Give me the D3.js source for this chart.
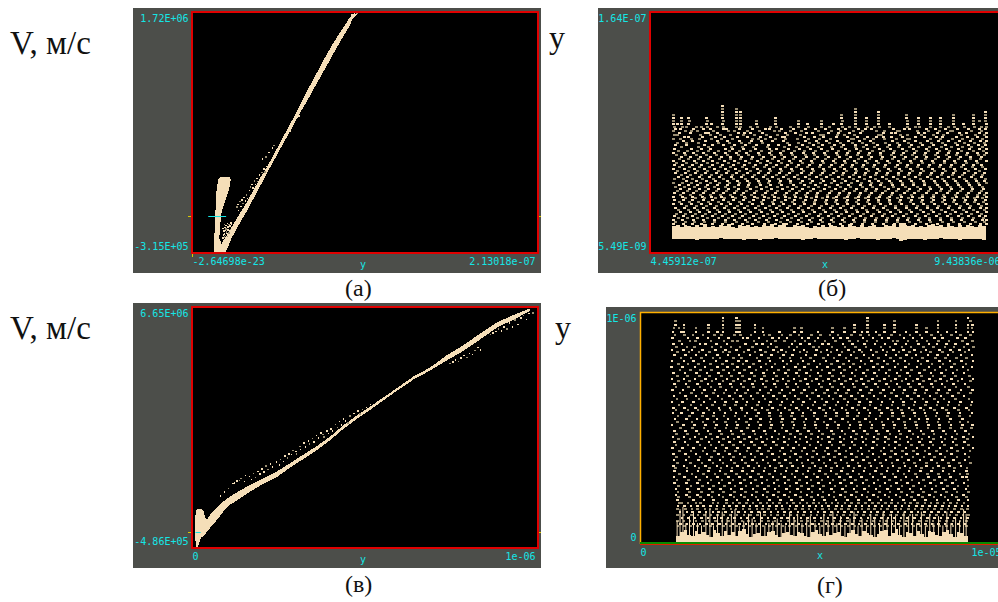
<!DOCTYPE html>
<html>
<head>
<meta charset="utf-8">
<script src="https://cdn.jsdelivr.net/npm/d3@7"></script>
<style>
body { margin:0; background:#fff; }
svg { display:block; }
.tick text, .mid { font-family:"DejaVu Sans Mono",monospace; font-size:10px; fill:#14e6e6; }
.cap { font-family:"Liberation Serif",serif; fill:#111; }
</style>
</head>
<body>
<div id="chart-area"></div>
<script>
// values. band outlines are read off, the loose
// dots follow the cloud's outline and density but are not one-to-one reads

// (a) x in 1e-9 m, V in 1e4 m/s
const aStemV = [-31.5,-18.9,-4.8,3.6,9.2,17.6,26,30.3,32.8]
const aStemLeft = [13.5,13.7,14.2,14.4,14.8,14.8,15.6,16,17.6]
const aStemRight = [20.3,16.8,17.6,18.3,19.7,21.8,23.4,23.8,23]
const aBandV = [-31.5,-25.9,-18.9,-11.9,-4.8,3.6,12,20.4,28.9,37.3,45.7,54.1,62.5,71,79.4,87.8,96.2,104.6,113.1,121.5,129.9,138.3,146.7,153.8,160.8,166.4,170.6]
const aBandLeft = [15,17.2,20.3,23.4,26.5,30.2,34.1,37.3,40.8,44.5,48,51.3,54.6,57.9,61.2,64.4,67.5,70.6,73.9,77.2,80.4,83.9,87.4,90.7,94.2,96.6,99]
const aBandRight = [20.3,22.4,24.4,27.1,30,33.7,36.9,40.2,43.5,46.6,50.1,53.4,56.8,60.3,63.6,66.9,70.6,73.9,77.4,80.8,84.3,87.6,91.1,94.2,97.3,98.9,102.4]
const aDotX = [18.5,19,19.6,20.2,20.8,21.4,18.8,19.5,20.3,21,21.7,22.4,19.2,20,20.9,21.6,22.5,23.2,18.6,19.8,20.6,21.8,23,19.4,20.5,21.4,22.2,23.4,24,27.2,27.8,28.2,29,29.6,30.4,31,31.6,32.4,33,33.6,35,35.5,36.5,37,38,38.6,39.5,40,41,41.6,42.5,43,44,44.6,45.5,43,45,47,49,50,98,99.5,101,60,65.5]
const aDotV = [-18,-18.5,-17.5,-18,-19,-17,-15.5,-15,-16,-14.5,-15,-14,-12.5,-12,-13,-11.5,-12,-11,-10,-9.5,-10.5,-9,-8,-7,-7.5,-6,-7,-5.5,-6.5,7.8,10,5,12.5,8.6,14,10.8,16,13,18,15,22,25,27,24,30,27,32,29.5,35,32.5,37,34,40,37.5,42,48.5,50,54,58,60,170,171,172,72,85]

// shared sample positions of the solid floors in (b) and (d), x in 1e-6 m x100
const floorX = [100,110,120,130,140,150,160,170,180,190,200,210,220,230,240,250,260,270,280,290,300,310,320,330,340,350,360,370,380,390,400,410,420,430,440,450,460,470,480,490,500,510,520,530,540,550,560,570,580,590,600,610,620,630,640,650,660,670,680,690,700,710,720,730,740,750,760,770,780,790,800,810,820,830,840,850,860,870,880,890,900]

// (b) x in 1e-6 m x100, y in 1e-8 m
const bBandTop = [2.3,2.36,2.26,2.4,2.3,2.24,2.38,2.28,2.44,2.26,2.34,2.24,2.4,2.3,2.46,2.28,2.22,2.36,2.3,2.42,2.26,2.34,2.24,2.38,2.3,2.44,2.26,2.36,2.5,2.28,2.24,2.36,2.3,2.42,2.26,2.22,2.34,2.28,2.4,2.26,2.36,2.3,2.24,2.4,2.28,2.46,2.3,2.24,2.38,2.26,2.34,2.42,2.28,2.24,2.38,2.32,2.44,2.28,2.5,2.36,2.3,2.42,2.26,2.34,2.24,2.38,2.46,2.3,2.38,2.26,2.42,2.3,2.24,2.36,2.28,2.4,2.34,2.26,2.38,2.3,2.28]
const bBandBot = [1.5,1.46,1.44,1.5,1.46,1.5,1.42,1.48,1.5,1.44,1.46,1.5,1.52,1.46,1.44,1.5,1.5,1.46,1.42,1.48,1.5,1.46,1.4,1.5,1.46,1.48,1.52,1.44,1.46,1.5,1.5,1.46,1.48,1.42,1.46,1.5,1.52,1.46,1.44,1.5,1.46,1.48,1.5,1.44,1.42,1.5,1.46,1.52,1.48,1.44,1.5,1.46,1.42,1.5,1.48,1.46,1.52,1.44,1.36,1.4,1.44,1.5,1.46,1.48,1.4,1.46,1.5,1.48,1.52,1.46,1.44,1.5,1.46,1.42,1.5,1.46,1.44,1.5,1.46,1.42,1.46]
const bDotY = [10.3,10.1,9.9,9.7,9.5,9.3,9.1,8.9,8.75,8.62,8.49,8.36,8.23,8.1,7.97,7.84,7.71,7.58,7.45,7.32,7.19,7.06,6.93,6.8,6.67,6.54,6.41,6.28,6.15,6.02,5.89,5.76,5.63,5.5,5.37,5.24,5.11,4.98,4.85,4.72,4.59,4.46,4.33,4.2,4.07,3.94,3.81,3.68,3.55,3.42,3.29,3.16,3.03,2.9,2.77,2.64,2.51]
const bDotX = [
[226],
[226,260,563],
[226,260,271,563,623,896],
[100,226,260,271,529,563,623,695,815,866,896],
[100,120,140,185,226,261,271,360,529,563,593,623,695,725,755,781,815,866,895],
[101,120,141,186,227,260,272,313,360,418,477,530,564,593,622,696,726,755,781,814,866,880,896],
[100,112,121,140,185,197,226,260,271,313,361,418,443,477,508,529,563,593,624,650,696,725,755,781,815,840,866,897],
[102,124,133,158,171,186,213,228,262,271,297,315,348,362,399,419,444,478,497,531,548,565,594,612,625,652,697,718,727,756,782,801,816,842,867,885,898],
[107,119,151,178,194,229,236,268,301,334,344,376,406,437,462,489,521,540,571,589,604,660,688,703,745,768,793,824,851,879,896],
[100,131,147,163,203,241,255,288,319,358,371,398,427,471,503,526,558,583,617,639,671,677,721,750,778,806,812,859,884],
[116,144,181,190,213,266,282,296,327,385,412,439,455,495,521,549,577,636,655,665,724,739,772,799,828,847,880,898],
[103,112,169,194,221,247,279,308,337,366,392,425,476,482,518,536,561,624,630,680,696,733,762,789,834,871,893],
[128,139,175,207,231,263,289,322,349,378,384,434,459,484,517,543,570,596,619,635,657,684,716,741,770,786,821,849,876,897],
[101,118,147,168,198,224,252,303,316,336,361,387,416,445,473,500,553,559,586,611,639,668,697,703,755,781,812,838,862,889],
[125,149,183,212,239,268,299,325,352,381,437,465,491,519,547,574,603,659,690,718,748,776,801,830,857,882,899],
[110,134,165,215,244,273,294,328,390,418,447,470,498,525,556,581,609,641,672,699,729,759,785,818,843,868,892],
[105,133,179,200,229,255,284,312,343,369,396,428,458,480,510,533,564,592,620,650,676,706,736,764,793,823,852,878,896],
[122,165,191,249,277,305,339,384,413,442,469,503,529,565,584,612,645,675,701,726,753,783,809,836,861,887],
[102,147,173,196,232,250,280,310,345,364,394,422,450,477,506,538,566,595,625,653,683,712,744,771,797,827,854,881,898],
[113,136,161,189,216,243,270,298,326,351,380,408,435,463,493,522,550,578,607,635,664,694,720,750,779,804,834,864,890],
[100,129,151,177,204,234,260,287,317,346,374,401,431,457,486,515,544,572,600,628,660,687,714,742,774,800,825,850,875,899],
[108,132,158,184,211,238,265,292,320,350,377,405,436,461,488,518,541,569,598,627,655,682,710,739,768,795,822,848,877,894],
[120,143,170,195,222,247,274,302,330,357,383,411,440,467,496,523,551,580,606,634,663,691,719,746,775,803,831,858,885],
[115,140,164,190,219,245,272,300,324,353,379,407,433,460,487,513,545,573,601,630,658,686,715,743,769,798,826,856,883],
[100,126,153,176,201,230,256,285,314,341,368,397,424,451,481,509,535,562,590,618,647,675,704,732,760,790,817,845,872,897],
[109,135,160,186,213,240,267,295,321,348,376,402,429,456,483,514,539,567,594,622,651,678,707,735,763,792,819,847,874],
[104,124,148,172,199,225,253,281,309,337,363,391,419,447,475,502,530,557,585,613,640,670,698,725,754,782,810,839,866,886],
[117,142,167,193,220,246,276,304,332,356,386,414,443,472,499,527,555,582,610,638,666,695,722,749,778,806,835,863,888],
[101,128,154,180,206,232,259,286,315,344,372,400,427,454,482,511,537,565,593,621,649,677,705,733,761,788,816,844,870,895],
[111,138,162,188,214,242,269,297,323,347,375,404,432,458,485,516,542,568,597,626,654,681,709,737,765,794,820,853,879],
[106,130,156,182,209,235,262,289,318,342,370,395,426,453,479,507,534,563,591,619,646,674,702,730,758,787,813,841,869,893],
[121,145,171,197,223,251,278,306,335,362,389,417,446,474,501,532,560,587,615,643,673,700,728,756,784,811,837,865,889],
[113,137,166,192,217,248,275,301,329,354,382,410,438,464,490,520,548,575,602,632,661,689,717,747,773,801,829,860,884],
[103,127,150,174,202,228,254,283,311,340,367,393,420,448,478,505,531,558,588,616,644,672,701,731,757,786,814,842,871,896],
[133,159,185,208,237,264,290,316,345,373,399,430,455,484,512,540,570,599,623,652,680,708,738,766,791,818,846,873,892],
[101,124,147,169,194,219,243,268,293,319,343,371,398,423,449,476,504,528,554,579,604,631,656,684,711,740,767,796,824,851,877,898],
[115,139,163,187,212,239,266,292,322,349,376,406,434,462,489,519,546,576,603,629,659,685,713,741,772,799,826,855,881],
[106,129,155,181,205,233,257,288,313,338,365,392,415,444,471,498,526,552,583,608,637,662,692,723,752,777,807,832,859,887],
[118,142,168,191,216,241,267,296,324,350,378,403,429,458,486,513,539,566,592,617,648,674,703,729,755,783,808,838,863,890],
[112,136,160,183,210,235,261,286,312,339,366,395,421,450,475,502,533,561,589,614,641,669,696,724,751,780,805,833,861,884],
[104,126,152,177,203,227,255,279,307,334,360,388,414,441,468,497,524,549,577,606,633,658,688,715,745,770,798,825,852,880,897],
[119,144,170,195,221,247,273,299,327,354,383,409,436,466,492,520,547,574,601,627,655,679,707,734,762,789,819,847,874,893],
[101,123,148,174,198,224,250,282,308,332,358,386,412,439,465,494,517,544,571,597,625,652,681,709,736,764,792,821,849,876,898],
[131,157,179,207,231,258,284,314,342,369,397,425,453,481,508,536,563,590,619,645,671,699,728,757,785,812,840,867,888],
[103,125,150,176,201,229,253,278,305,331,359,385,410,438,463,491,516,543,572,598,624,651,678,706,735,763,790,816,845,870,895],
[116,141,165,189,215,242,270,295,325,352,377,405,433,460,487,514,541,568,595,622,650,676,704,732,759,787,815,843,868,891],
[100,122,146,172,196,222,246,274,301,328,356,381,408,435,461,490,518,545,573,600,628,654,682,711,738,766,794,822,850,878,899],
[134,158,184,211,236,263,289,317,344,370,396,424,451,478,506,534,560,586,612,640,667,694,722,748,775,804,831,857,885],
[105,128,153,178,204,230,256,281,310,336,363,390,418,445,472,500,527,555,582,609,636,665,693,720,747,774,802,828,854,883,897],
[113,138,162,186,213,240,265,291,320,347,374,401,428,456,483,510,538,567,593,621,647,675,703,730,758,784,811,839,866,892],
[119,143,167,193,218,244,271,298,326,353,379,407,432,459,488,515,542,569,596,626,653,680,707,737,763,793,819,848,875,898],
[108,132,156,182,208,234,259,285,311,340,365,393,420,447,474,503,529,556,584,611,639,666,695,721,749,778,806,834,860,886],
[102,125,149,175,200,226,252,277,304,330,357,384,411,440,469,495,522,550,578,604,632,659,687,716,743,771,799,827,853,881,896],
[114,137,161,188,214,241,269,294,319,346,375,402,427,455,480,509,537,564,591,618,646,673,700,727,754,782,810,836,864,890],
[100,123,151,177,205,232,257,283,309,337,364,392,419,448,476,504,531,559,587,615,642,670,698,726,753,780,808,835,862,888,899],
[107,130,155,180,206,233,260,288,316,343,372,399,426,452,479,507,535,562,588,616,644,672,701,729,756,785,813,841,869,894],
[101,126,150,173,199,225,251,276,303,333,361,388,416,443,470,499,525,553,581,607,635,663,690,718,746,773,800,829,856,883,899]
]

// (c) x in 1e-9 m, V in 1e5 m/s
const cStemV = [-4.56,-1.91,.55,2.52,4.49,5.96,6.65]
const cStemLeft = [11.6,9.6,9.6,9.6,9.6,11.6,13.5]
const cStemRight = [16.4,26,40.5,48.2,36.6,34.7,28]
const cBandX = [26,40,52,71,91,110,139,168,206,245,283,322,360,399,437,476,514,553,592,640,688,736,784,832,881,929,977]
const cBandTop = [1,3,4.98,6.95,8.92,10.39,12.16,13.84,15.8,17.77,20.23,22.79,25.25,28.1,31.45,34.3,36.96,39.7,42.47,45.91,48.57,52.2,55.16,58.6,61.95,64.1,66.1]
const cBandBot = [-1.9,-.5,1.04,3.31,5.96,7.93,9.9,11.87,14.13,16.1,18.95,21.51,24.07,27.02,30.37,33.32,35.98,38.83,41.68,45.03,47.69,50.64,53.49,56.84,60.38,62.74,65.3]
const cDotX = [80,92,104,116,128,140,152,120,135,150,164,176,188,200,212,224,170,182,194,206,218,230,242,254,266,278,290,250,262,274,286,298,310,322,334,346,358,370,300,312,326,338,350,364,376,388,400,412,424,436,380,392,404,418,430,442,454,466,478,490,502,514,448,460,472,484,496,508,744,752,760,768,776,784,792,800,808,816,824,832,860,868,876,884,892,900,908,916,924,932,940,948,956,964,972,984]
const cDotV = [10.8,12,13,14.4,15.2,16,16.8,14.6,15.4,15,16.6,17.4,18,18.8,19.6,20.2,15.6,16.2,17.2,17.8,18.6,19.4,20.8,21.6,22.6,23.2,24.2,20,21,22,23,24,25.4,26.4,27,27.8,28.6,29.4,23.2,24.6,25.2,26.2,26.8,28,29,30,30.6,32,32.8,33.6,28.2,29.2,30,31,31.8,33,34.4,35.2,36,36.4,37,37.8,32.4,33.2,34.2,35,35.8,36.6,50,50.4,51,50.6,51.6,52.4,51.8,53,52.6,53.8,54.8,54,58.6,59,59.4,60.2,59.6,60.8,60.2,62,60.8,62.8,61.6,63.4,64.2,63,64.8,65]

// (d) x in 1e-6 m x100, y in 1e-8 m
const dBandTop = [3.5,5,6,4,3.6,5.6,4.2,5.2,3.8,3.2,6,4.6,3.4,5.4,4,5,3.6,5.8,6.4,4.2,3.2,4.4,4.8,3.6,3.4,5,5.6,4,3,4.6,5.2,3.8,3.6,5,4.6,3.4,3.2,5.2,6,4.4,3.4,5,3.8,4.6,5,3.4,3.2,4.6,6.2,4.2,3.6,5.4,4.8,3.8,3.2,4.4,5.6,6,3.4,4.8,6.4,4,3.2,5.2,4.8,3.6,5.8,4.2,3.2,5.6,5,3.8,3.4,5.2,6,4.2,3.2,5,4.8,3.6,6]
const dSpikeX = [102,110,118,126,136,147,158,169,181,192,202,213,226,239,251,261,273,285,298,308,319,331,343,354,365,377,388,399,411,423,433,445,458,468,481,494,505,517,530,541,551,563,577,588,599,610,622,634,645,658,668,679,691,702,713,725,738,749,760,773,784,796,807,820,832,843,854,867,878,889,896]
const dSpikeTop = [10,15,16,9,12,14,9,8,14,15,8,13,14,11,13,15,8,10,13,11,9,14,8,9,10,11,9,8,14,11,13,9,11,12,9,8,13,10,14,9,12,8,11,14,8,11,8,13,11,9,14,11,13,12,8,14,12,13,9,14,8,13,9,12,8,14,9,11,10,15,13]
const dDotY = [98,96.5,95,93.5,92,90.5,89.2,88,86.7,85.5,84.2,83,81.7,80.5,79.2,78,76.7,75.5,74.2,73,71.7,70.5,69.2,68,66.7,65.5,64.2,63,61.7,60.5,59.2,58,56.7,55.5,54.2,53,51.7,50.5,49.2,48,46.7,45.5,44.2,43,41.7,40.5,39.2,38,36.7,35.5,34.2,33,31.7,30.5,29.2,28,26.7,25.5,24.2,23,21.7,20.5,19.2,18,16.7,15.5,14.2,13,11.7,10.5,9.2,8]
const dDotX = [
[225,261,622,897],
[94,225,261,270,622,696,815,865,905],
[94,117,185,225,261,270,313,586,622,668,696,756,815,865,897,910],
[90,104,117,150,185,225,261,270,313,334,421,440,526,558,586,622,668,696,756,783,815,865,897,908],
[87,110,117,150,185,209,225,261,270,313,334,380,421,440,485,526,558,586,606,622,645,668,696,728,756,783,815,840,865,897,912],
[93,119,142,170,201,221,256,273,301,337,352,387,410,433,468,492,519,541,578,603,625,654,687,711,739,766,798,824,853,877,904],
[86,128,155,183,214,240,279,292,324,361,378,401,442,459,486,527,548,566,609,637,661,679,722,746,771,806,828,869,891],
[105,134,149,191,228,250,265,310,345,369,394,423,450,477,505,533,572,595,620,648,692,704,733,758,785,817,846,882,910],
[88,112,162,176,207,235,286,316,333,356,414,437,462,498,515,554,581,613,642,669,698,727,762,791,812,838,863,896],
[97,125,146,195,219,247,271,305,348,372,406,428,473,489,524,560,588,617,658,683,716,741,776,803,834,859,887,913],
[84,116,139,168,204,232,262,295,327,363,385,419,447,481,510,538,569,599,631,664,693,720,751,782,820,850,874,901],
[100,131,159,187,225,243,282,312,341,375,398,436,456,494,521,552,585,607,646,675,708,737,769,794,827,856,889],
[91,122,151,178,210,238,268,299,330,358,391,416,452,479,513,545,576,612,636,672,700,729,755,788,814,843,878,908],
[109,137,166,197,216,254,276,318,350,381,408,439,465,501,530,563,591,626,652,685,712,744,773,809,836,866,894],
[85,118,144,173,205,234,267,289,325,354,389,412,445,475,507,539,571,604,633,667,695,724,760,786,819,848,880,912],
[103,129,157,190,223,251,280,308,343,367,400,430,460,491,523,556,583,615,649,677,706,735,768,799,829,861,892],
[83,114,148,175,209,237,264,297,329,359,392,424,448,483,512,544,574,601,638,663,697,726,757,790,821,852,884,909],
[106,135,163,193,226,255,284,315,346,377,404,435,467,496,528,558,590,622,653,682,714,743,778,807,837,868,898],
[89,120,152,180,212,241,270,303,336,365,396,427,454,486,517,549,579,610,641,673,703,732,764,796,825,857,886],
[99,127,160,188,220,248,278,311,339,371,403,433,463,493,526,555,587,618,647,680,710,739,770,801,833,864,902],
[85,117,147,177,206,236,266,298,331,362,390,420,451,482,514,543,575,605,635,668,699,728,759,792,822,853,881,911],
[102,133,165,194,224,253,283,313,344,374,405,438,469,499,531,561,592,624,655,686,717,746,775,808,840,870,905],
[92,123,154,184,215,245,274,306,335,366,397,425,457,488,518,550,582,611,643,674,702,734,765,797,826,858,890],
[96,130,161,192,218,249,281,309,342,370,402,431,461,495,525,557,586,619,650,681,709,740,772,802,835,865,899],
[86,115,145,174,203,233,263,293,326,357,387,418,449,480,511,541,570,602,632,665,694,723,754,783,816,847,879,910],
[107,138,167,198,227,258,287,319,349,380,409,440,471,503,534,564,596,627,657,688,719,750,780,811,842,872,904],
[90,121,150,179,211,242,272,302,334,364,393,422,455,487,516,547,578,608,640,670,701,731,761,793,823,855,887],
[98,126,158,189,222,252,279,307,340,373,401,432,464,497,527,559,589,620,651,684,713,742,774,805,832,863,900],
[84,113,143,172,202,231,261,291,323,355,386,417,446,478,509,540,568,600,630,662,691,721,752,784,815,845,877,909],
[104,136,164,196,229,259,288,320,351,382,411,441,472,504,535,565,597,628,659,689,720,749,781,812,843,873,906],
[88,119,149,181,213,244,275,304,332,360,395,426,458,490,519,551,580,614,644,676,705,736,767,795,828,860,893],
[95,128,156,186,217,246,277,314,347,376,407,434,466,500,529,562,593,623,654,687,715,745,777,806,839,871,901],
[87,111,141,171,200,230,260,290,322,353,384,415,444,476,508,537,567,598,629,660,690,718,750,779,813,844,876,908],
[101,132,168,199,228,257,285,317,352,383,413,443,474,506,536,566,594,625,656,690,721,752,782,810,841,874,903],
[93,124,153,182,208,239,269,300,328,356,388,421,453,484,520,553,584,616,645,678,707,738,763,787,818,849,883],
[99,140,169,200,231,260,289,321,354,385,416,447,477,502,532,568,599,629,661,692,723,753,785,815,846,875,898],
[85,116,146,176,207,235,265,296,327,358,389,419,450,479,511,542,573,603,634,666,696,725,756,789,820,851,882,910],
[108,141,172,203,233,262,292,323,355,386,417,448,480,510,540,571,601,633,664,695,726,758,788,819,850,880,907],
[92,122,152,183,215,247,276,308,338,368,399,429,459,489,522,552,583,613,646,677,708,737,768,800,830,862,891],
[97,127,159,190,221,250,281,312,343,379,410,437,468,498,528,560,591,621,652,683,712,747,776,804,837,867,900],
[87,118,148,178,209,238,267,298,329,359,392,423,452,485,515,546,576,606,639,671,700,730,760,791,824,854,885,911],
[103,134,166,195,226,255,284,316,345,375,406,436,467,497,526,557,588,618,649,679,711,741,771,803,834,864,896],
[91,120,155,186,214,243,273,303,333,363,394,425,456,486,517,548,579,609,638,669,698,733,764,795,826,856,888],
[96,129,161,192,223,253,282,311,341,372,403,433,463,494,524,555,586,617,648,680,710,743,773,802,833,866,899],
[86,113,144,175,205,234,264,294,325,356,388,418,449,480,512,543,574,604,635,667,697,727,757,790,821,852,884,911],
[105,137,170,201,230,259,290,320,350,381,412,442,473,505,533,563,595,626,658,688,718,748,780,811,840,869,903],
[89,121,151,181,212,242,271,301,331,361,393,424,455,483,514,545,577,607,637,668,699,729,759,792,822,853,889],
[97,131,162,193,224,254,283,313,346,378,408,438,470,501,531,561,592,622,653,685,716,746,777,806,835,867,901],
[90,123,157,187,216,246,277,306,335,366,396,428,458,488,519,549,581,611,642,673,704,734,766,798,827,858,890],
[100,135,167,197,225,256,286,318,348,380,410,441,471,502,534,565,596,627,657,689,722,751,783,813,844,874,904],
[88,117,147,177,208,236,265,295,324,354,385,415,445,477,507,538,569,600,631,661,692,724,755,784,817,847,879],
[94,126,158,188,219,249,280,310,340,369,400,431,462,492,523,554,585,615,647,678,709,739,770,801,831,861,895],
[92,125,156,185,217,248,278,305,337,367,398,427,458,490,521,550,582,612,643,675,706,735,767,797,829,859,893],
[105,139,171,202,232,261,291,322,353,384,414,444,475,506,537,567,598,628,660,691,722,754,786,816,845,876,896],
[90,119,150,180,210,240,270,300,330,362,393,423,454,484,513,544,575,605,636,668,698,727,758,789,820,850,882,894],
[98,130,160,191,222,252,283,314,345,374,405,435,466,496,527,558,589,619,651,682,713,744,775,805,836,865,898],
[92,124,154,184,213,243,272,302,332,365,395,426,456,487,518,548,578,609,640,670,701,732,763,794,825,855,886],
[103,136,168,199,229,258,288,319,349,379,409,440,470,500,532,562,593,625,656,686,717,748,779,810,841,870,897],
[95,127,157,187,218,247,276,307,338,368,399,429,460,491,522,553,584,614,645,676,707,738,769,799,830,860,892],
[101,133,165,196,226,256,287,317,347,377,408,439,469,499,530,561,592,623,654,684,715,745,776,808,838,868,899],
[96,124,155,185,214,245,274,304,334,364,394,424,455,485,516,547,577,607,638,669,700,730,761,792,823,854,885],
[103,132,163,194,224,255,284,315,345,376,406,437,468,498,529,560,590,620,650,681,711,742,773,804,835,866,894],
[100,143,172,198,234,263,293,321,352,383,413,443,474,504,535,566,597,627,658,689,720,750,781,812,843,871,897],
[104,110,128,151,163,197,211,234,252,270,289,307,328,345,362,380,400,418,436,455,473,489,507,524,541,560,578,597,616,635,652,671,688,706,724,740,759,779,796,814,832,850,868,887],
[101,119,136,154,171,190,208,228,243,261,281,299,316,335,353,371,387,409,426,445,462,480,496,515,536,552,572,590,607,625,643,662,680,699,717,735,756,772,792,809,828,845,863,881,898],
[100,122,140,155,175,189,207,226,246,260,279,297,318,333,350,370,388,406,424,443,461,478,498,516,533,550,569,588,606,624,641,659,677,699,714,734,752,770,788,806,825,843,860,880,896],
[107,125,141,160,178,197,212,231,249,267,285,303,322,339,357,376,394,412,431,449,467,485,504,522,540,558,577,595,613,631,649,667,687,705,724,742,760,778,797,816,835,853,871,889],
[100,118,138,156,174,191,209,227,245,263,282,300,320,338,356,374,392,410,428,446,466,483,502,520,538,556,574,592,610,628,646,665,683,701,720,738,756,775,793,811,829,848,866,884,899],
[112,129,146,165,183,201,220,238,256,274,292,310,330,348,366,385,402,420,439,457,476,494,513,531,549,567,586,604,623,641,660,678,696,714,732,750,769,787,805,824,842,860,878,896],
[100,117,134,150,168,186,204,222,240,258,277,295,313,331,349,367,384,403,422,440,458,477,495,512,530,548,566,584,602,620,638,656,674,692,711,729,747,765,784,802,820,839,857,875,893],
[108,126,143,161,179,196,215,233,252,270,288,306,325,343,361,379,397,415,433,452,470,488,507,525,543,561,580,598,616,634,653,671,689,707,726,744,762,781,799,817,835,854,872,890],
[101,119,137,155,172,190,208,226,244,262,281,299,317,335,353,371,389,407,425,443,461,479,497,515,533,551,569,587,605,623,641,659,677,695,713,731,749,767,785,803,821,839,857,875,893]
]

// shared tick labels, one pair per panel
const aTicksY = ["-3.15E+05","1.72E+06"], aTicksX = ["-2.64698e-23","2.13018e-07"]
const bTicksY = ["5.49E-09","1.64E-07"], bTicksX = ["4.45912e-07","9.43836e-06"]
const cTicksY = ["-4.86E+05","6.65E+06"], cTicksX = ["0","1e-06"]
const dTicksY = ["0","1E-06"], dTicksX = ["0","1e-05"]

const WHEAT = "#f5deb8"
const DIM = "#9a8e72"
const GREY = "#4c4e4a"
const CYAN = "#14e6e6"
const RED = "#e00000"

const svg = d3.select("#chart-area").append("svg")
  .attr("width", 998)
  .attr("height", 602)
  .style("background", "#fff")

// one grey box with black plot area, frame and the two end labels on each axis
function makePanel(box, frame, xDomain, yDomain, ticksX, ticksY, midLabel, midX) {
  const g = svg.append("g")
  g.append("rect").attr("x", box.x0).attr("y", box.y0)
    .attr("width", box.x1 - box.x0).attr("height", box.y1 - box.y0)
    .attr("fill", GREY)
  g.append("rect").attr("x", frame.x0).attr("y", frame.y0)
    .attr("width", frame.x1 - frame.x0).attr("height", frame.y1 - frame.y0)
    .attr("fill", "#000")

  const x = d3.scaleLinear().domain(xDomain).range([frame.x0, frame.x1])
  const y = d3.scaleLinear().domain(yDomain).range([frame.y1, frame.y0])

  const yAxis = g.append("g")
    .attr("transform", `translate(${frame.x0},0)`)
    .call(d3.axisLeft(y).tickValues(yDomain).tickSize(0).tickPadding(3.5)
      .tickFormat((d, i) => ticksY[i]))
  yAxis.select(".domain").remove()
  yAxis.selectAll("text").attr("dy", (d, i) => i == 0 ? "-3.5" : "9.5")

  const xAxis = g.append("g")
    .attr("transform", `translate(0,${frame.y1})`)
    .call(d3.axisBottom(x).tickValues(xDomain).tickSize(0).tickPadding(5)
      .tickFormat((d, i) => ticksX[i]))
  xAxis.select(".domain").remove()
  xAxis.selectAll("text")
    .attr("text-anchor", (d, i) => i == 0 ? "start" : "end")
    .attr("dx", (d, i) => i == 0 ? 0 : -3)

  g.append("text").attr("class", "mid")
    .attr("x", midX).attr("y", frame.y1 + 15)
    .attr("text-anchor", "middle")
    .text(midLabel)

  return { g, x, y, frame }
}

function drawBandV(p, v, left, right) {
  const area = d3.area()
    .y((d, i) => p.y(v[i]))
    .x0((d, i) => p.x(left[i]))
    .x1((d, i) => p.x(right[i]))
  p.g.append("path").datum(v).attr("d", area)
    .attr("fill", WHEAT).attr("shape-rendering", "crispEdges")
}

function drawBandX(p, xs, top, bot, curve) {
  const area = d3.area()
    .curve(curve || d3.curveLinear)
    .x((d, i) => p.x(xs[i]))
    .y1((d, i) => p.y(top[i]))
    .y0((d, i) => p.y(bot[i]))
  p.g.append("path").datum(xs).attr("d", area)
    .attr("fill", WHEAT).attr("shape-rendering", "crispEdges")
}

function drawPairs(p, xs, ys, size) {
  p.g.append("g").selectAll("rect").data(xs).join("rect")
    .attr("x", d => p.x(d))
    .attr("y", (d, i) => p.y(ys[i]))
    .attr("width", size)
    .attr("height", size)
    .attr("fill", (d, i) => i % 3 == 2 ? DIM : WHEAT)
    .attr("shape-rendering", "crispEdges")
}

// rows of dots, every other row in the darker tone like the original
function drawRows(p, rowY, rowX, w, h) {
  const pts = []
  rowY.forEach((v, r) => rowX[r].forEach(d => pts.push({ xv: d, yv: v, r })))
  p.g.append("g").selectAll("rect").data(pts).join("rect")
    .attr("x", d => p.x(d.xv))
    .attr("y", d => p.y(d.yv))
    .attr("width", w)
    .attr("height", h)
    .attr("fill", d => d.r % 2 ? DIM : WHEAT)
    .attr("shape-rendering", "crispEdges")
}

function frameRect(p, color, width) {
  const f = p.frame
  p.g.append("rect").attr("x", f.x0).attr("y", f.y0)
    .attr("width", f.x1 - f.x0).attr("height", f.y1 - f.y0)
    .attr("fill", "none").attr("stroke", color).attr("stroke-width", width)
    .attr("shape-rendering", "crispEdges")
}

function zeroMarks(p, x0, x1) {
  const f = p.frame, yy = Math.round(p.y(0)) + .5
  p.g.append("line").attr("x1", f.x0 - 4).attr("x2", f.x0).attr("y1", yy).attr("y2", yy).attr("stroke", "#d8c800")
  p.g.append("line").attr("x1", f.x1).attr("x2", f.x1 + 3).attr("y1", yy).attr("y2", yy).attr("stroke", "#d8c800")
  p.g.append("line").attr("x1", p.x(x0)).attr("x2", p.x(x1)).attr("y1", yy).attr("y2", yy).attr("stroke", CYAN)
}

// (a)
const pa = makePanel({x0:133,x1:541,y0:8,y1:273}, {x0:192,x1:538,y0:12,y1:253},
  [0, 213.018], [-31.5, 172], aTicksX, aTicksY, "y", 363)
drawBandV(pa, aStemV, aStemLeft, aStemRight)
drawBandV(pa, aBandV, aBandLeft, aBandRight)
drawPairs(pa, aDotX, aDotV, 1.5)
zeroMarks(pa, 10, 21)
frameRect(pa, RED, 2)
pa.g.append("line").attr("x1", 192.5).attr("x2", 192.5).attr("y1", 254).attr("y2", 257).attr("stroke", "#d8c800")

// (b)
const pb = makePanel({x0:598,x1:998,y0:8,y1:273}, {x0:650,x1:1003,y0:12,y1:253},
  [44.5912, 943.836], [0.549, 16.4], bTicksX, bTicksY, "x", 825)
drawRows(pb, bDotY, bDotX, 3, 2)
drawBandX(pb, floorX, bBandTop, bBandBot, d3.curveStepAfter)
frameRect(pb, RED, 2)

// (c)
const pc = makePanel({x0:133,x1:541,y0:303,y1:568}, {x0:192,x1:538,y0:307,y1:548},
  [0, 1000], [-4.86, 66.5], cTicksX, cTicksY, "y", 363)
drawBandV(pc, cStemV, cStemLeft, cStemRight)
drawBandX(pc, cBandX, cBandTop, cBandBot)
drawPairs(pc, cDotX, cDotV, 1.5)
zeroMarks(pc, 10, 25)
frameRect(pc, RED, 2)

// (d) orange frame, green floor
const pd = makePanel({x0:606,x1:998,y0:307,y1:568}, {x0:640,x1:1004,y0:312,y1:544},
  [0, 1000], [0, 100], dTicksX, dTicksY, "x", 820)
drawRows(pd, dDotY, dDotX, 2.5, 2)
pd.g.append("g").selectAll("line").data(dSpikeX).join("line")
  .attr("x1", d => pd.x(d)).attr("x2", d => pd.x(d))
  .attr("y1", pd.y(1))
  .attr("y2", (d, i) => pd.y(dSpikeTop[i]))
  .attr("stroke", WHEAT).attr("stroke-width", 1)
drawBandX(pd, floorX, dBandTop, floorX.map(() => 1), d3.curveStepAfter)
frameRect(pd, "#e02000", 1)
pd.g.append("path").attr("d", "M640.5,544V312.5H1004").attr("fill", "none").attr("stroke", "#ffb000").attr("stroke-width", 1.5)
pd.g.append("line").attr("x1", 640).attr("x2", 1004).attr("y1", 543).attr("y2", 543).attr("stroke", "#0a8a00").attr("stroke-width", 2)

// captions around the panels
const captions = [
  { t:"V, м/с", x:10, y:54, s:33 },
  { t:"y", x:549, y:48, s:32 },
  { t:"V, м/с", x:10, y:339, s:33 },
  { t:"y", x:555, y:338, s:32 },
  { t:"(а)", x:345, y:296, s:24 },
  { t:"(б)", x:818, y:296, s:24 },
  { t:"(в)", x:345, y:592, s:24 },
  { t:"(г)", x:817, y:593, s:24 }
]
svg.selectAll(".cap").data(captions).join("text")
  .attr("class", "cap")
  .attr("x", d => d.x).attr("y", d => d.y)
  .attr("font-size", d => d.s)
  .text(d => d.t)
</script>
</body>
</html>
